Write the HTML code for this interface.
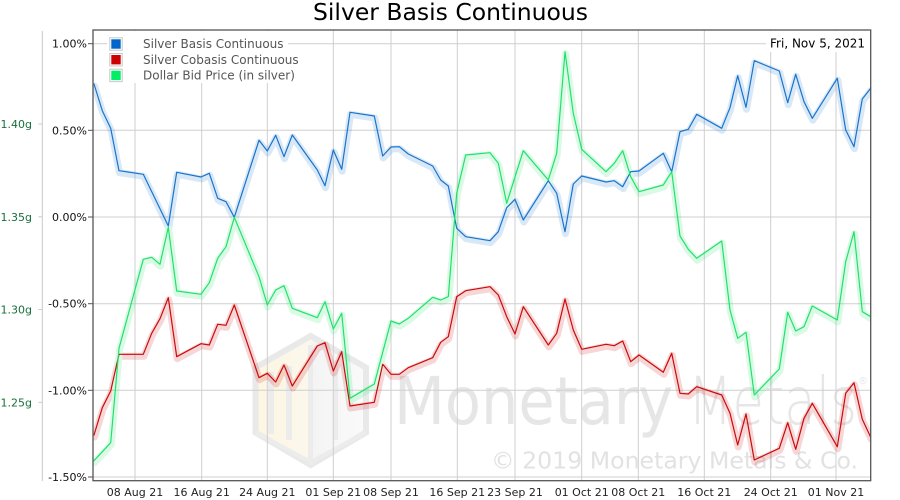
<!DOCTYPE html>
<html><head><meta charset="utf-8">
<style>
html,body{margin:0;padding:0;background:#fff;}
svg{display:block;}
text{font-family:"DejaVu Sans","Liberation Sans",sans-serif;}
</style></head>
<body>
<svg width="900" height="500" viewBox="0 0 900 500" xmlns="http://www.w3.org/2000/svg">
<defs>
<clipPath id="pc"><rect x="93" y="30" width="778" height="451"/></clipPath>
<linearGradient id="lg" x1="0" x2="1" y1="0" y2="0">
<stop offset="0" stop-color="#fcf6e2"/><stop offset="0.5" stop-color="#fbf7ec"/><stop offset="0.52" stop-color="#f4f4f4"/><stop offset="1" stop-color="#fafafa"/>
</linearGradient>
</defs>
<rect width="900" height="500" fill="#fff"/>

<!-- title -->
<text x="313" y="20" font-size="23" fill="#000" textLength="275" lengthAdjust="spacingAndGlyphs">Silver Basis Continuous</text>

<!-- watermark -->
<g>
<polygon points="310.7,336 366,367.5 366,432.5 310.7,465 255.5,432.5 255.5,367.5" fill="url(#lg)" stroke="#e9e9e9" stroke-width="6"/>
<rect x="268" y="372" width="6" height="62" fill="#ececec"/>
<rect x="286" y="366" width="6" height="74" fill="#ececec"/>
<rect x="308" y="345" width="5" height="120" fill="#ececec"/>
<rect x="334" y="360" width="4" height="80" fill="#ececec"/>
<line x1="255.5" y1="432.5" x2="310.7" y2="462" stroke="#ececec" stroke-width="4"/>
<line x1="366" y1="432.5" x2="310.7" y2="462" stroke="#ececec" stroke-width="4"/>
<text x="394" y="424" font-size="66" fill="#e6e6e6" textLength="279" lengthAdjust="spacingAndGlyphs">Monetary</text>
<text x="688" y="424" font-size="66" font-weight="200" fill="#e6e6e6" textLength="169" lengthAdjust="spacingAndGlyphs">Metals</text>
<text x="858" y="384" font-size="10" fill="#e6e6e6">®</text>
<text x="491" y="468.5" font-size="23" fill="#e2e2e2" textLength="367" lengthAdjust="spacingAndGlyphs">© 2019 Monetary Metals &amp; Co.</text>
</g>

<!-- grid -->
<g stroke="#cfcfcf" stroke-width="1">
<line x1="93" y1="43.7" x2="871" y2="43.7"/>
<line x1="93" y1="130.3" x2="871" y2="130.3"/>
<line x1="93" y1="217" x2="871" y2="217"/>
<line x1="93" y1="303.7" x2="871" y2="303.7"/>
<line x1="93" y1="390.3" x2="871" y2="390.3"/>
<line x1="93" y1="477" x2="871" y2="477"/>
<line x1="135" y1="30" x2="135" y2="481"/>
<line x1="201.7" y1="30" x2="201.7" y2="481"/>
<line x1="267.3" y1="30" x2="267.3" y2="481"/>
<line x1="333.3" y1="30" x2="333.3" y2="481"/>
<line x1="391" y1="30" x2="391" y2="481"/>
<line x1="457.3" y1="30" x2="457.3" y2="481"/>
<line x1="515" y1="30" x2="515" y2="481"/>
<line x1="581.7" y1="30" x2="581.7" y2="481"/>
<line x1="638.3" y1="30" x2="638.3" y2="481"/>
<line x1="704.3" y1="30" x2="704.3" y2="481"/>
<line x1="770.7" y1="30" x2="770.7" y2="481"/>
<line x1="836" y1="30" x2="836" y2="481"/>
</g>

<!-- left secondary axis -->
<g stroke="#c8c8c8" stroke-width="1">
<line x1="42.3" y1="31" x2="42.3" y2="481"/>
<line x1="38.5" y1="124" x2="42.3" y2="124"/>
<line x1="38.5" y1="216.8" x2="42.3" y2="216.8"/>
<line x1="38.5" y1="309.5" x2="42.3" y2="309.5"/>
<line x1="38.5" y1="402.3" x2="42.3" y2="402.3"/>
</g>
<g font-size="11" fill="#17703a" text-anchor="end">
<text x="32" y="128">1.40g</text>
<text x="32" y="220.8">1.35g</text>
<text x="32" y="313.5">1.30g</text>
<text x="32" y="406.3">1.25g</text>
</g>

<!-- y ticks -->
<g stroke="#555" stroke-width="1">
<line x1="88" y1="43.7" x2="93" y2="43.7"/>
<line x1="88" y1="130.3" x2="93" y2="130.3"/>
<line x1="88" y1="217" x2="93" y2="217"/>
<line x1="88" y1="303.7" x2="93" y2="303.7"/>
<line x1="88" y1="390.3" x2="93" y2="390.3"/>
<line x1="88" y1="477" x2="93" y2="477"/>
</g>
<g font-size="11" fill="#111" text-anchor="end">
<text x="87" y="47.7">1.00%</text>
<text x="87" y="134.3">0.50%</text>
<text x="87" y="221">0.00%</text>
<text x="87" y="307.7">-0.50%</text>
<text x="87" y="394.3">-1.00%</text>
<text x="87" y="481">-1.50%</text>
</g>

<!-- x labels -->
<g font-size="11" fill="#222" text-anchor="middle">
<text x="135" y="496">08 Aug 21</text>
<text x="201.7" y="496">16 Aug 21</text>
<text x="267.3" y="496">24 Aug 21</text>
<text x="333.3" y="496">01 Sep 21</text>
<text x="391" y="496">08 Sep 21</text>
<text x="457.3" y="496">16 Sep 21</text>
<text x="515" y="496">23 Sep 21</text>
<text x="581.7" y="496">01 Oct 21</text>
<text x="638.3" y="496">08 Oct 21</text>
<text x="704.3" y="496">16 Oct 21</text>
<text x="770.7" y="496">24 Oct 21</text>
<text x="836" y="496">01 Nov 21</text>
</g>

<!-- series -->
<g clip-path="url(#pc)" fill="none" stroke-linejoin="round" stroke-linecap="round">
<g transform="translate(0.5,2)" stroke-width="7" opacity="0.16">
<polyline stroke="#1874cd" points="94,84 102.3,110.7 110.7,128.3 119,170.7 143.3,174.3 168.3,226 176.7,172.3 201,177 209.3,173.3 217.7,198.3 226,201.7 234.3,217.3 259,140.3 267.3,151 275.7,135.3 284,156.7 292.3,135 317.3,170 325,185.7 333.3,150 341.7,169.3 350,112.3 374.3,116 382.7,156 391,147 399.3,146.7 408.3,154 432.7,166 440.7,180 448.3,186 456.7,228.3 465.7,236.7 490,240.7 498.3,231.7 506.7,207.7 515,199.3 523.3,220 548.3,180.7 556.7,193.3 565,231.7 573.3,184 581.7,176 606,182 614.3,180.7 622.7,186.7 630.7,171.7 639,171 663.3,153.3 671.7,171.7 680,131.7 688.3,129.3 696.7,114.3 721.7,128.3 730,107.7 737.7,75.7 746,107.3 754.3,60.7 779.3,71 787.7,102.7 795.7,74.3 804,101.7 812.3,118.3 837.3,78.3 845.7,130 854,146.7 862.3,99 870.7,88.3"/>
<polyline stroke="#cc0a0a" points="94,435 102.3,407.7 110.7,391 119,354.3 143.3,354.3 151.7,333.3 160,318.7 168.3,297.7 176.7,356.7 201,343.7 209.3,345 217.7,324.3 226,325.3 234.3,305 259,377.7 267.3,373.3 275.7,382 284,365 292.3,386 317.3,346 325,342.7 333.3,371 341.7,351.7 350,406 374.3,402.3 382.7,364.3 391,374.3 399.3,374.3 408.3,367.7 432.7,357.7 440.7,342.3 448.3,336.7 456.7,296.7 465.7,290.7 490,286.7 498.3,295 506.7,316.7 515,334 523.3,306.7 548.3,345 556.7,333.3 565,299 573.3,330 581.7,349.3 606,344.3 614.3,345.7 622.7,341 630.7,361.7 639,355 663.3,372.3 671.7,353.3 680,393.3 688.3,394 696.7,386.7 721.7,395 730,413.3 737.7,445 746,414 754.3,460 779.3,448.3 787.7,422.7 795.7,449.3 804,418.3 812.3,403.3 837.3,446.7 845.7,393.3 854,382.7 862.3,419.3 870.7,437.3"/>
<polyline stroke="#1ee36a" points="94,460.7 110.7,442.7 119,348.3 143.3,259.3 151.7,257.3 160,264.3 168.3,227.3 176.7,291 201,294.3 209.3,282.7 217.7,258.3 226,246.7 234.3,217.3 259,276.7 267.3,305 275.7,290 284,285.7 292.3,308.3 317.3,317.7 325,301.7 333.3,329 341.7,313.3 350,398.3 374.3,384 391,321 399.3,324 408.3,318.3 432.7,297.3 440.7,300 448.3,296.7 456.7,193.3 465.7,155 490,152.7 498.3,163.3 506.7,203.3 523.3,150.7 548.3,180 556.7,153.3 565,51.7 573.3,113.3 581.7,149.3 606,171.7 614.3,163.3 622.7,150.7 630.7,176.7 639,191.7 663.3,185 671.7,171.7 680,236 688.3,249.3 696.7,258.3 721.7,241 730,310 737.7,338.3 746,332.3 754.3,395 779.3,369 787.7,312.3 795.7,331 804,326.7 812.3,306 837.3,320 845.7,261.7 854,231.7 862.3,311.7 870.7,316.7"/>
</g>
<g stroke-width="1.2">
<polyline stroke="#1874cd" points="94,84 102.3,110.7 110.7,128.3 119,170.7 143.3,174.3 168.3,226 176.7,172.3 201,177 209.3,173.3 217.7,198.3 226,201.7 234.3,217.3 259,140.3 267.3,151 275.7,135.3 284,156.7 292.3,135 317.3,170 325,185.7 333.3,150 341.7,169.3 350,112.3 374.3,116 382.7,156 391,147 399.3,146.7 408.3,154 432.7,166 440.7,180 448.3,186 456.7,228.3 465.7,236.7 490,240.7 498.3,231.7 506.7,207.7 515,199.3 523.3,220 548.3,180.7 556.7,193.3 565,231.7 573.3,184 581.7,176 606,182 614.3,180.7 622.7,186.7 630.7,171.7 639,171 663.3,153.3 671.7,171.7 680,131.7 688.3,129.3 696.7,114.3 721.7,128.3 730,107.7 737.7,75.7 746,107.3 754.3,60.7 779.3,71 787.7,102.7 795.7,74.3 804,101.7 812.3,118.3 837.3,78.3 845.7,130 854,146.7 862.3,99 870.7,88.3"/>
<polyline stroke="#cc0a0a" points="94,435 102.3,407.7 110.7,391 119,354.3 143.3,354.3 151.7,333.3 160,318.7 168.3,297.7 176.7,356.7 201,343.7 209.3,345 217.7,324.3 226,325.3 234.3,305 259,377.7 267.3,373.3 275.7,382 284,365 292.3,386 317.3,346 325,342.7 333.3,371 341.7,351.7 350,406 374.3,402.3 382.7,364.3 391,374.3 399.3,374.3 408.3,367.7 432.7,357.7 440.7,342.3 448.3,336.7 456.7,296.7 465.7,290.7 490,286.7 498.3,295 506.7,316.7 515,334 523.3,306.7 548.3,345 556.7,333.3 565,299 573.3,330 581.7,349.3 606,344.3 614.3,345.7 622.7,341 630.7,361.7 639,355 663.3,372.3 671.7,353.3 680,393.3 688.3,394 696.7,386.7 721.7,395 730,413.3 737.7,445 746,414 754.3,460 779.3,448.3 787.7,422.7 795.7,449.3 804,418.3 812.3,403.3 837.3,446.7 845.7,393.3 854,382.7 862.3,419.3 870.7,437.3"/>
<polyline stroke="#1ee36a" points="94,460.7 110.7,442.7 119,348.3 143.3,259.3 151.7,257.3 160,264.3 168.3,227.3 176.7,291 201,294.3 209.3,282.7 217.7,258.3 226,246.7 234.3,217.3 259,276.7 267.3,305 275.7,290 284,285.7 292.3,308.3 317.3,317.7 325,301.7 333.3,329 341.7,313.3 350,398.3 374.3,384 391,321 399.3,324 408.3,318.3 432.7,297.3 440.7,300 448.3,296.7 456.7,193.3 465.7,155 490,152.7 498.3,163.3 506.7,203.3 523.3,150.7 548.3,180 556.7,153.3 565,51.7 573.3,113.3 581.7,149.3 606,171.7 614.3,163.3 622.7,150.7 630.7,176.7 639,191.7 663.3,185 671.7,171.7 680,236 688.3,249.3 696.7,258.3 721.7,241 730,310 737.7,338.3 746,332.3 754.3,395 779.3,369 787.7,312.3 795.7,331 804,326.7 812.3,306 837.3,320 845.7,261.7 854,231.7 862.3,311.7 870.7,316.7"/>
</g>
</g>

<!-- legend -->
<rect x="107" y="31" width="181" height="52" fill="#fff"/>
<g stroke="#c8c8c8" stroke-width="1" fill="#fff">
<rect x="109.8" y="37.8" width="12.4" height="12.4"/>
<rect x="109.8" y="53.5" width="12.4" height="12.4"/>
<rect x="109.8" y="69.2" width="12.4" height="12.4"/>
</g>
<rect x="111.3" y="39.3" width="9.4" height="9.4" fill="#0066cc"/>
<rect x="111.3" y="55" width="9.4" height="9.4" fill="#cc0000"/>
<rect x="111.3" y="70.7" width="9.4" height="9.4" fill="#00ee66"/>
<g font-size="12" fill="#555">
<text x="143" y="48.2">Silver Basis Continuous</text>
<text x="143" y="63.9">Silver Cobasis Continuous</text>
<text x="143" y="79.6">Dollar Bid Price (in silver)</text>
</g>

<!-- date -->
<rect x="766" y="31" width="104" height="21" fill="#fff"/>
<text x="865" y="47.5" font-size="12" fill="#000" text-anchor="end">Fri, Nov 5, 2021</text>

<!-- plot frame -->
<rect x="93" y="30" width="777.7" height="450.7" fill="none" stroke="#555" stroke-width="1.3"/>
</svg>
</body></html>
